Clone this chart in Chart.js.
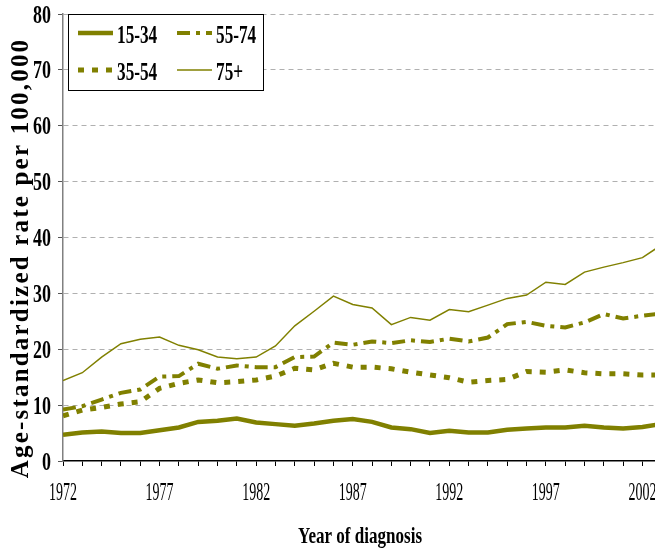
<!DOCTYPE html>
<html>
<head>
<meta charset="utf-8">
<script src="https://cdn.jsdelivr.net/npm/chart.js@4"></script>
<style>
  html, body { margin: 0; padding: 0; background: #fff; }
  #wrap { width: 655px; height: 548px; }
</style>
</head>
<body>
<div id="wrap"><canvas id="myChart" width="655" height="548"></canvas></div>
<script>
// data
var years = [];
for (var yr = 1972; yr <= 2003; yr++) years.push(yr);

var age15_34 = [4.7, 5.1, 5.3, 5.0, 5.0, 5.5, 6.0, 7.0, 7.2, 7.6, 6.9, 6.6, 6.3, 6.7, 7.2, 7.5,
                7.0, 6.0, 5.7, 5.0, 5.4, 5.1, 5.1, 5.6, 5.8, 6.0, 6.0, 6.3, 6.0, 5.8, 6.1, 6.6];
var age35_54 = [8.1, 9.1, 9.6, 10.2, 10.6, 13.0, 13.9, 14.5, 14.0, 14.2, 14.5, 15.2, 16.6, 16.3, 17.5, 16.8,
                16.8, 16.5, 15.9, 15.4, 14.9, 14.1, 14.4, 14.6, 16.0, 15.9, 16.3, 15.8, 15.6, 15.6, 15.4, 15.4];
var age55_74 = [9.2, 9.8, 11.0, 12.2, 12.8, 15.1, 15.2, 17.4, 16.5, 17.1, 16.8, 16.8, 18.6, 18.7, 21.2, 20.8,
                21.4, 21.1, 21.6, 21.3, 21.9, 21.4, 22.1, 24.5, 24.9, 24.2, 23.9, 24.8, 26.3, 25.5, 26.0, 26.4];
var age75plus = [14.4, 15.8, 18.6, 21.0, 21.8, 22.2, 20.7, 19.9, 18.6, 18.3, 18.6, 20.6, 24.2, 26.8, 29.5, 28.0,
                 27.4, 24.4, 25.7, 25.2, 27.1, 26.7, 27.9, 29.1, 29.7, 32.0, 31.6, 33.8, 34.7, 35.5, 36.4, 38.7];

var seriesLabels = ['15-34', '35-54', '55-74', '75+'];
var yTitle = 'Age-standardized rate per 100,000';
var xTitle = 'Year of diagnosis';

var olive = '#808000';

function pts(arr) {
  return years.map(function (y, i) { return {x: y, y: arr[i]}; });
}

// draw text squeezed sideways, like the narrow serif in the original
function txt(ctx, s, x, y, size, weight, sx, align, spacing) {
  ctx.save();
  ctx.translate(x, y);
  ctx.scale(sx, 1);
  ctx.font = weight + ' ' + size + 'px "Liberation Serif"';
  if (spacing) ctx.letterSpacing = spacing + 'px';
  ctx.textAlign = align;
  ctx.textBaseline = 'alphabetic';
  ctx.fillStyle = '#000';
  ctx.fillText(s, 0, 0);
  ctx.restore();
}

var labelsPlugin = {
  id: 'labelsPlugin',
  afterDraw: function (chart) {
    var ctx = chart.ctx;
    var xs = chart.scales.x, ys = chart.scales.y;

    // y tick labels
    ys.ticks.forEach(function (t) {
      txt(ctx, String(t.value), 51, ys.getPixelForValue(t.value) + 8.5, 25, 'bold', 0.72, 'right');
    });
    // x tick labels every 5 years
    xs.ticks.forEach(function (t) {
      if ((t.value - 1972) % 5 === 0) {
        txt(ctx, String(t.value), xs.getPixelForValue(t.value), 500, 25, 'normal', 0.56, 'center');
      }
    });
    // axis titles
    txt(ctx, xTitle, 360, 543, 24, 'bold', 0.71, 'center');
    ctx.save();
    ctx.translate(28, 258);
    ctx.rotate(-Math.PI / 2);
    txt(ctx, yTitle, 0, 0, 25, 'bold', 1, 'center', 2.2);
    ctx.restore();

    // legend box
    var items = [
      {ds: 0, x: 78, y: 33, tx: 117, ty: 43},
      {ds: 2, x: 177, y: 33, tx: 216, ty: 43},
      {ds: 1, x: 78, y: 70, tx: 117, ty: 80},
      {ds: 3, x: 177, y: 70, tx: 216, ty: 80}
    ];
    ctx.save();
    ctx.fillStyle = '#fff';
    ctx.fillRect(68, 14, 195, 76);
    ctx.strokeStyle = '#000';
    ctx.lineWidth = 1;
    ctx.strokeRect(68.5, 14.5, 195, 76);
    ctx.restore();
    items.forEach(function (it) {
      var d = chart.data.datasets[it.ds];
      ctx.save();
      ctx.strokeStyle = d.borderColor;
      ctx.lineWidth = d.borderWidth;
      ctx.setLineDash(d.borderDash || []);
      ctx.lineCap = 'butt';
      ctx.beginPath();
      ctx.moveTo(it.x, it.y);
      ctx.lineTo(it.x + 35, it.y);
      ctx.stroke();
      ctx.restore();
      txt(ctx, d.label, it.tx, it.ty, 25, 'bold', 0.69, 'left');
    });
  }
};

var ctx = document.getElementById('myChart').getContext('2d');
var myChart = new Chart(ctx, {
  type: 'line',
  data: {
    datasets: [{
      label: seriesLabels[0],
      data: pts(age15_34),
      borderColor: olive,
      borderWidth: 4.5,
      pointRadius: 0
    }, {
      label: seriesLabels[1],
      data: pts(age35_54),
      borderColor: olive,
      borderWidth: 5,
      borderDash: [6, 8],
      pointRadius: 0
    }, {
      label: seriesLabels[2],
      data: pts(age55_74),
      borderColor: olive,
      borderWidth: 4,
      borderDash: [13, 6, 4, 6],
      pointRadius: 0
    }, {
      label: seriesLabels[3],
      data: pts(age75plus),
      borderColor: olive,
      borderWidth: 1.5,
      pointRadius: 0
    }]
  },
  options: {
    responsive: false,
    devicePixelRatio: 1,
    animation: false,
    layout: { padding: { top: 14, right: 0, left: 0, bottom: 0 } },
    plugins: {
      legend: { display: false },
      tooltip: { enabled: false }
    },
    scales: {
      x: {
        type: 'linear',
        min: 1972,
        max: 2002.65,
        ticks: { stepSize: 1, includeBounds: false, autoSkip: false, display: false },
        grid: { drawOnChartArea: false, drawTicks: true, tickLength: 5, tickColor: '#000' },
        border: { color: '#000', width: 1.5 },
        afterFit: function (scale) { scale.height = 87; }
      },
      y: {
        min: 0,
        max: 80,
        ticks: { stepSize: 10, display: false },
        grid: {
          color: function (c) { return c.tick && c.tick.value === 0 ? 'rgba(0,0,0,0)' : '#b0b0b0'; },
          lineWidth: 1,
          tickLength: 5,
          tickColor: '#555'
        },
        border: { color: '#808080', width: 1.5, dash: [5, 4] },
        afterFit: function (scale) { scale.width = 63; }
      }
    }
  },
  plugins: [labelsPlugin]
});
</script>
</body>
</html>
